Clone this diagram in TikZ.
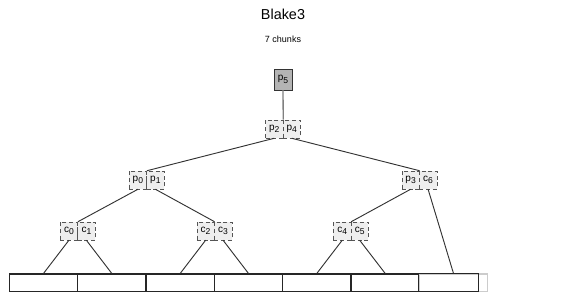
\documentclass[tikz,border=0pt]{standalone}
\usepackage{fontspec}
\setmainfont{Liberation Sans}
\definecolor{halfline}{HTML}{555555}
\definecolor{halffill}{HTML}{EEEEEE}
\definecolor{rootfill}{HTML}{B4B4B4}
\newcommand{\lbl}[2]{#1\raisebox{-0.45ex}{\fontsize{6.4}{6}\selectfont #2}}
\tikzset{
  half/.style={draw=halfline, densely dashed, fill=halffill, minimum width=13.1pt, minimum height=13.5pt, inner sep=0pt, font=\fontsize{7.5}{9}\selectfont},
  root/.style={draw=black!80, fill=rootfill, minimum width=13.7pt, minimum height=15.7pt, inner sep=0pt, font=\fontsize{7.5}{9}\selectfont},
  chunk/.style={draw=black!85, line width=0.8pt, fill=white, minimum width=51.25pt, minimum height=13.3pt, inner sep=0pt},
  edge/.style={draw=black!80, line width=0.7pt}
}
\begin{document}
\begin{tikzpicture}[x=0.75pt, y=-0.75pt]
        \useasboundingbox (0,0) rectangle (568,303);
        % Title
        \node (title) at (283,14.7) {\fontsize{10.8}{13}\selectfont Blake3};
        \node (subtitle) at (283,39.5) {\fontsize{6.75}{8}\selectfont 7 chunks};

        % Root
        \node[root] (p5) at (283,79.5) {\lbl{p}{5}};

        % Parent level
        \node[half] (p2) at (274.25,129) {\lbl{p}{2}};
        \node[half] (p4) at (291.75,129) {\lbl{p}{4}};

        \node[half] (p0) at (137.9,180) {\lbl{p}{0}};
        \node[half] (p1) at (155.4,180) {\lbl{p}{1}};
        \node[half] (p3) at (410.6,180) {\lbl{p}{3}};
        \node[half] (c6) at (428.1,180) {\lbl{c}{6}};

        % Chunk chaining values
        \node[half] (c0) at (68.9,231) {\lbl{c}{0}};
        \node[half] (c1) at (86.4,231) {\lbl{c}{1}};
        \node[half] (c2) at (205.6,231) {\lbl{c}{2}};
        \node[half] (c3) at (223.1,231) {\lbl{c}{3}};
        \node[half] (c4) at (342.2,231) {\lbl{c}{4}};
        \node[half] (c5) at (359.7,231) {\lbl{c}{5}};

        % Input chunks
        \node[chunk] (k0) at (43.5,282.85) {};
        \node[chunk] (k1) at (111.8,282.85) {};
        \node[chunk] (k2) at (180.2,282.85) {};
        \node[chunk] (k3) at (248.5,282.85) {};
        \node[chunk] (k4) at (316.8,282.85) {};
        \node[chunk] (k5) at (385.2,282.85) {};
        \node[chunk, draw=gray!40] (k6) at (453.5,282.85) {};
        \draw[draw=black!85, line width=0.8pt] (k6.north west) rectangle ++(60,17.7);

        % Edges
        \draw[draw=gray, line width=1pt] (p5.south) -- (p2.north east);
        \draw[edge] (p2.south) -- (p0.north east);
        \draw[edge] (p4.south) -- (p3.north east);
        \draw[edge] (p0.south) -- (c0.north east);
        \draw[edge] (p1.south) -- (c2.north east);
        \draw[edge] (p3.south) -- (c4.north east);
        \draw[edge] (c6.south) -- (k6.north);
        \draw[edge] (c0.south) -- (k0.north);
        \draw[edge] (c1.south) -- (k1.north);
        \draw[edge] (c2.south) -- (k2.north);
        \draw[edge] (c3.south) -- (k3.north);
        \draw[edge] (c4.south) -- (k4.north);
        \draw[edge] (c5.south) -- (k5.north);
    \end{tikzpicture}
\end{document}
